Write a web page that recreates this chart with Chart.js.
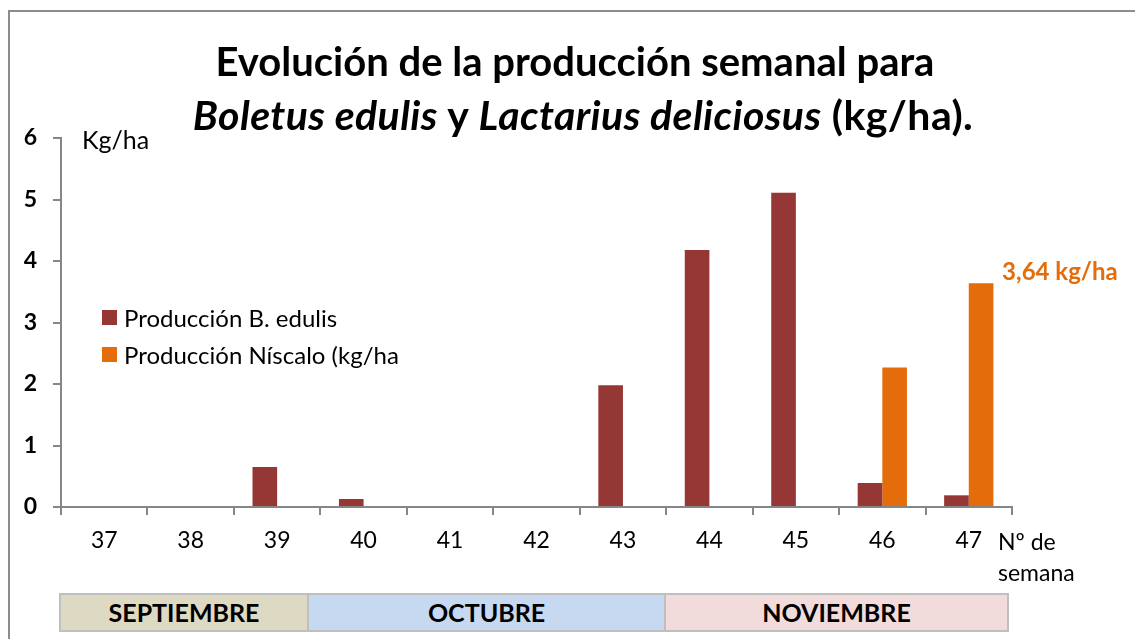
<!DOCTYPE html>
<html>
<head>
<meta charset="utf-8">
<script src="https://cdn.jsdelivr.net/npm/chart.js@4.4.1/dist/chart.umd.min.js"></script>
<style>
    html, body { margin: 0; padding: 0; background: #fff; }
    body { width: 1135px; height: 639px; position: relative; overflow: hidden; font-family: Lato, "Open Sans", sans-serif; }
    #frame { position: absolute; left: 8px; top: 10px; width: 1200px; height: 700px; border: 2px solid #8c8c8c; box-sizing: border-box; }
    #chartBox { position: absolute; left: 0; top: 0; width: 1135px; height: 639px; }
    .title { position: absolute; left: 0; width: 1150px; text-align: center; font-weight: bold; font-size: 40px; color: #000; white-space: nowrap; }
    .unit { position: absolute; font-size: 25px; color: #000; }
    .legend { position: absolute; left: 102px; top: 299px; font-size: 24px; color: #000; }
    .legend div { height: 37px; display: flex; align-items: center; }
    .legend span.sw { display: inline-block; width: 15px; height: 15px; margin-right: 7px; }
    .month { position: absolute; top: 593px; height: 39px; box-sizing: border-box; border: 2px solid #bfbfbf; font-weight: bold; font-size: 25px; text-align: center; line-height: 35px; color: #000; }
</style>
</head>
<body>
<div id="frame"></div>
<div id="chartBox"><canvas id="produccionChart" width="1135" height="639"></canvas></div>

<div class="title" style="top: 37px;">Evolución de la producción semanal para</div>
<div class="title" style="top: 90px; left: 8px; font-size: 41px; letter-spacing: 0.4px;"><i>Boletus edulis</i> y <i>Lactarius deliciosus</i> (kg/ha).</div>
<div class="unit" style="left: 82px; top: 124px;">Kg/ha</div>
<div class="unit" style="left: 998px; top: 526px; font-size: 23px; line-height: 31px;">Nº de<br>semana</div>
<div class="legend" id="legend"></div>

<div class="month" style="left: 59px; width: 250px; background: #ddd9c3;">SEPTIEMBRE</div>
<div class="month" style="left: 307px; width: 359px; background: #c6d9f1;">OCTUBRE</div>
<div class="month" style="left: 664px; width: 345px; background: #f2dcdb;">NOVIEMBRE</div>

<script>
// Weekly production data (kg/ha)
const semanas = ["37", "38", "39", "40", "41", "42", "43", "44", "45", "46", "47"];
const boletus = [0, 0, 0.65, 0.13, 0, 0, 1.98, 4.18, 5.11, 0.39, 0.19];
const niscalo = [0, 0, 0, 0, 0, 0, 0, 0, 0, 2.27, 3.64];
const seriesNames = ["Producción B. edulis", "Producción Níscalo (kg/ha"];
const seriesColors = ["#953735", "#e46c0a"];
const yTicks = [0, 1, 2, 3, 4, 5, 6];

// Legend built from series
const legendEl = document.getElementById("legend");
seriesNames.forEach((name, i) => {
    const row = document.createElement("div");
    row.innerHTML = '<span class="sw" style="background:' + seriesColors[i] + '"></span>' + name;
    legendEl.appendChild(row);
});

// Label for the last Níscalo bar
const lastValueLabel = {
    id: "lastValueLabel",
    afterDatasetsDraw(chart) {
        const meta = chart.getDatasetMeta(1);
        const idx = niscalo.length - 1;
        const bar = meta.data[idx];
        const ctx = chart.ctx;
        ctx.save();
        ctx.font = "bold 24px Lato, 'Open Sans', sans-serif";
        ctx.fillStyle = seriesColors[1];
        ctx.textAlign = "left";
        ctx.textBaseline = "middle";
        ctx.fillText(niscalo[idx].toFixed(2).replace(".", ",") + " kg/ha", bar.x + 21, bar.y - 11);
        ctx.restore();
    },
};

const ctx = document.getElementById("produccionChart").getContext("2d");
new Chart(ctx, {
    type: "bar",
    data: {
        labels: semanas,
        datasets: [
            { label: seriesNames[0], data: boletus, backgroundColor: seriesColors[0] },
            { label: seriesNames[1], data: niscalo, backgroundColor: seriesColors[1] },
        ],
    },
    options: {
        responsive: false,
        animation: false,
        layout: { padding: { left: 0, right: 123, top: 138, bottom: 0 } },
        datasets: { bar: { categoryPercentage: 0.57, barPercentage: 1.0 } },
        plugins: {
            legend: { display: false },
            title: { display: false },
            tooltip: { enabled: false },
        },
        scales: {
            x: {
                grid: { display: true, offset: true, drawOnChartArea: false, tickLength: 8, color: "#868686", lineWidth: 2 },
                border: { color: "#868686", width: 2 },
                ticks: { font: { family: "Lato, 'Open Sans', sans-serif", size: 23 }, color: "#000", padding: 12, maxRotation: 0 },
                afterFit(scale) { scale.height = 132; },
            },
            y: {
                min: 0,
                max: 6,
                afterBuildTicks(scale) { scale.ticks = yTicks.map((v) => ({ value: v })); },
                grid: { display: true, drawOnChartArea: false, tickLength: 8, color: "#868686", lineWidth: 2 },
                border: { color: "#868686", width: 2 },
                ticks: { font: { family: "Lato, 'Open Sans', sans-serif", size: 23, weight: "bold" }, color: "#000", padding: 16 },
                afterFit(scale) { scale.width = 61; },
            },
        },
    },
    plugins: [lastValueLabel],
});
</script>
</body>
</html>
